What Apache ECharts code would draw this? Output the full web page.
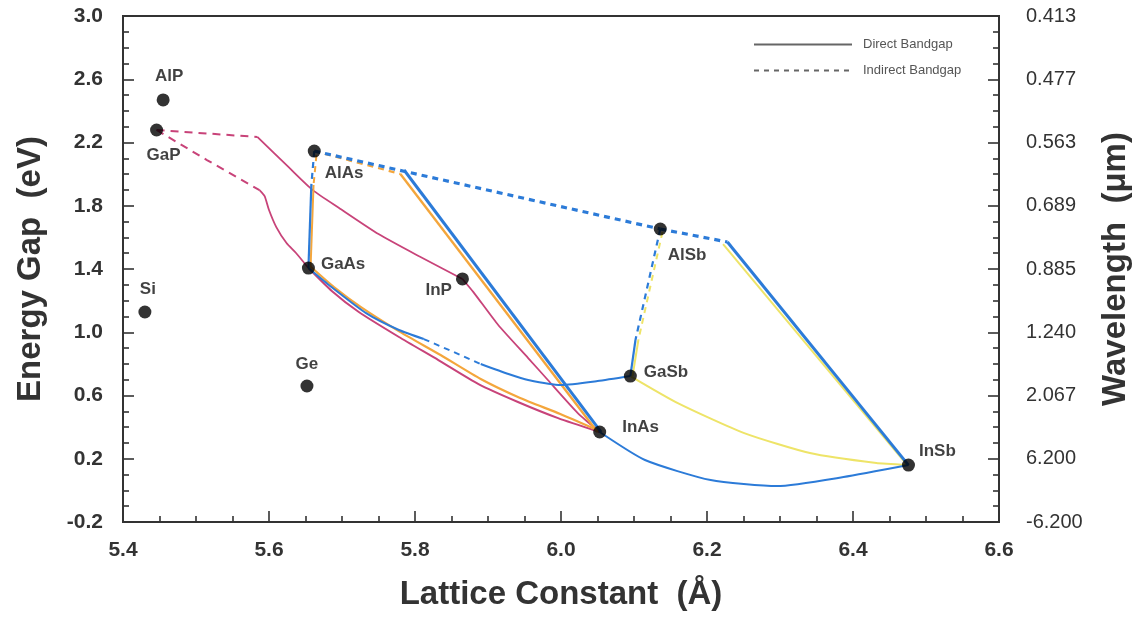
<!DOCTYPE html>
<html>
<head>
<meta charset="utf-8">
<script src="https://cdn.jsdelivr.net/npm/echarts@6/dist/echarts.min.js"></script>
<style>
html,body{margin:0;padding:0;background:#fff;}
#chart{width:1140px;height:617px;}
</style>
</head>
<body>
<div id="chart"></div>
<script>
// ---- Data (lattice constant in Å, energy gap in eV) ----
const compounds   = ['AlP','GaP','Si','Ge','AlAs','GaAs','InP','AlSb','GaSb','InAs','InSb'];
const latticeConst = [5.455, 5.446, 5.430, 5.652, 5.662, 5.654, 5.865, 6.136, 6.095, 6.053, 6.476];
const energyGap    = [2.469, 2.279, 1.128, 0.660, 2.146, 1.406, 1.337, 1.653, 0.723, 0.369, 0.160];

const xTicks = ['5.4','5.6','5.8','6.0','6.2','6.4','6.6'];
const energyTicks = ['-0.2','0.2','0.6','1.0','1.4','1.8','2.2','2.6','3.0'];
const wavelengthTicks = ['-6.200','6.200','2.067','1.240','0.885','0.689','0.563','0.477','0.413'];

// GaInP (pink)
const gaInP_indirect = [[5.446,2.279],[5.584,2.235]];
const gaInP_direct   = [[5.584,2.235],[5.628,2.039],[5.660,1.899],[5.696,1.786],[5.750,1.621],[5.805,1.482],[5.865,1.337]];
// GaAsP (pink)
const gaAsP_indirect = [[5.446,2.279],[5.515,2.089],[5.587,1.899]];
const gaAsP_direct   = [[5.587,1.899],[5.594,1.861],[5.600,1.773],[5.610,1.665],[5.624,1.564],[5.637,1.501],[5.654,1.406]];
// InAsP (pink)
const inAsP_direct   = [[5.865,1.337],[5.880,1.254],[5.914,1.046],[5.955,0.837],[5.982,0.698],[6.023,0.489],[6.053,0.369]];
// GaInAs (pink and orange)
const gaInAs_pink    = [[5.654,1.406],[5.686,1.261],[5.723,1.128],[5.778,0.970],[5.832,0.824],[5.887,0.672],[5.941,0.559],[5.996,0.457],[6.053,0.369]];
const gaInAs_orange  = [[5.656,1.419],[5.689,1.286],[5.726,1.159],[5.780,1.001],[5.835,0.856],[5.890,0.704],[5.944,0.584],[5.999,0.483],[6.050,0.381]];
// AlInAs (orange and blue)
const alInAs_orange_indirect = [[5.662,2.146],[5.780,2.001]];
const alInAs_orange_direct   = [[5.780,2.001],[6.050,0.369]];
const alInAs_blue_direct     = [[5.785,2.026],[6.055,0.369]];
// AlGaAs (blue and orange)
const alGaAs_blue_indirect   = [[5.662,2.146],[5.658,1.931]];
const alGaAs_blue_direct     = [[5.658,1.931],[5.654,1.406]];
const alGaAs_orange_indirect = [[5.665,2.120],[5.661,1.931]];
const alGaAs_orange_direct   = [[5.661,1.931],[5.657,1.419]];
// AlAsSb and AlInSb indirect (blue)
const alAsSb_indirect  = [[5.662,2.146],[6.136,1.653]];
const alInSb_indirect  = [[6.136,1.653],[6.228,1.571]];
const alInSb_blue      = [[6.228,1.571],[6.476,0.160]];
const alInSb_yellow    = [[6.222,1.558],[6.472,0.173]];
// GaAsSb (blue)
const gaAsSb_direct1   = [[5.654,1.406],[5.682,1.299],[5.733,1.121],[5.778,1.014],[5.812,0.957]];
const gaAsSb_indirect  = [[5.812,0.957],[5.853,0.875],[5.890,0.799]];
const gaAsSb_direct2   = [[5.890,0.799],[5.928,0.736],[5.955,0.698],[6.000,0.666],[6.050,0.691],[6.095,0.723]];
// AlGaSb (blue and yellow)
const alGaSb_blue_indirect   = [[6.136,1.653],[6.102,0.951]];
const alGaSb_blue_direct     = [[6.102,0.951],[6.095,0.723]];
const alGaSb_yellow_indirect = [[6.139,1.634],[6.106,0.951]];
const alGaSb_yellow_direct   = [[6.106,0.951],[6.098,0.723]];
// GaInSb (yellow), InAsSb (blue)
const gaInSb_direct = [[6.095,0.723],[6.160,0.552],[6.251,0.362],[6.341,0.236],[6.432,0.173],[6.476,0.160]];
const inAsSb_direct = [[6.053,0.369],[6.115,0.192],[6.205,0.065],[6.296,0.027],[6.387,0.084],[6.476,0.160]];

// ---- Styles ----
const BLUE='#2c7bd8', PINK='#c84379', ORANGE='#f4a63c', YELLOW='#eee468';
const FONT='"Liberation Sans", Arial, Helvetica, sans-serif';

function line(data, color, width, dashed, z, smooth){
  return {
    type:'line', data:data, showSymbol:false, symbol:'none', silent:true,
    smooth: smooth ? 0.2 : false, z:z,
    lineStyle:{color:color, width:width, type: dashed ? [6,5] : 'solid'}
  };
}

const labelPlacement = {
  'AlP': {position:'top', offset:[6,-3]},
  'GaP': {position:'bottom', offset:[7,4]},
  'Si':  {position:'top', offset:[3,-2]},
  'Ge':  {position:'top', offset:[0,-1]},
  'AlAs':{position:'right', offset:[-2,22]},
  'GaAs':{position:'right', offset:[0,-4]},
  'InP': {position:'left', offset:[2,11]},
  'AlSb':{position:'right', offset:[-5,26]},
  'GaSb':{position:'right', offset:[1,-4]},
  'InAs':{position:'right', offset:[10,-5]},
  'InSb':{position:'right', offset:[-2,-14]}
};

const pointData = compounds.map((name,i)=>({
  name:name,
  value:[latticeConst[i], energyGap[i]],
  label:Object.assign({show:true, formatter:name, distance:6}, labelPlacement[name])
}));

const series = [
  // pink
  Object.assign(line(gaInP_indirect, PINK, 2, true, 2), {lineStyle:{color:PINK,width:2,type:[8,6]}}),
  line(gaInP_direct, PINK, 1.8, false, 2, true),
  Object.assign(line(gaAsP_indirect, PINK, 2, true, 2), {lineStyle:{color:PINK,width:2,type:[8,6]}}),
  line(gaAsP_direct, PINK, 1.8, false, 2, true),
  line(inAsP_direct, PINK, 1.8, false, 2, true),
  line(gaInAs_pink, PINK, 2, false, 2, true),
  // yellow
  line(alInSb_yellow, YELLOW, 2, false, 3),
  line(alGaSb_yellow_indirect, YELLOW, 2, true, 3),
  line(alGaSb_yellow_direct, YELLOW, 2, false, 3),
  line(gaInSb_direct, YELLOW, 2, false, 3, true),
  // orange
  line(gaInAs_orange, ORANGE, 2.2, false, 4, true),
  line(alInAs_orange_indirect, ORANGE, 2.2, true, 4),
  line(alInAs_orange_direct, ORANGE, 2.4, false, 4),
  line(alGaAs_orange_indirect, ORANGE, 2, true, 4),
  line(alGaAs_orange_direct, ORANGE, 2, false, 4),
  // blue
  line(alAsSb_indirect, BLUE, 3.2, true, 5),
  line(alInSb_indirect, BLUE, 3.2, true, 5),
  line(alInSb_blue, BLUE, 3, false, 5),
  line(alInAs_blue_direct, BLUE, 3, false, 5),
  line(alGaAs_blue_indirect, BLUE, 2.2, true, 5),
  line(alGaAs_blue_direct, BLUE, 2.2, false, 5),
  line(gaAsSb_direct1, BLUE, 2, false, 5, true),
  line(gaAsSb_indirect, BLUE, 2, true, 5),
  line(gaAsSb_direct2, BLUE, 2, false, 5, true),
  line(alGaSb_blue_indirect, BLUE, 2.2, true, 5),
  line(alGaSb_blue_direct, BLUE, 2.2, false, 5),
  line(inAsSb_direct, BLUE, 2, false, 5, true),
  // legend dummies
  {name:'Direct Bandgap', type:'line', data:[], symbol:'none', showSymbol:false, lineStyle:{color:'#666', width:2}, itemStyle:{color:'#666'}},
  {name:'Indirect Bandgap', type:'line', data:[], symbol:'none', showSymbol:false, lineStyle:{color:'#666', width:2, type:[5,5]}, itemStyle:{color:'#666'}},
  // compounds
  {
    type:'scatter', data:pointData, symbolSize:13, z:10, silent:true,
    itemStyle:{color:'#000'},
    label:{color:'#111', fontSize:17, fontWeight:'bold', fontFamily:FONT}
  }
];

const axisLineStyle = {color:'#333', width:2};
const tickStyle = {color:'#333', width:1.6};

const option = {
  animation:false,
  backgroundColor:'#fff',
  textStyle:{fontFamily:FONT},
  grid:{left:123, right:137, top:16, bottom:95, show:true, borderColor:'#333', borderWidth:2, backgroundColor:'transparent'},
  legend:{
    data:['Direct Bandgap','Indirect Bandgap'],
    orient:'vertical', left:748, top:33, itemWidth:98, itemHeight:14, itemGap:13,
    selectedMode:false,
    itemStyle:{opacity:0},
    textStyle:{fontSize:13, color:'#555', fontFamily:FONT, padding:[0,0,0,6]}
  },
  xAxis:{
    type:'value', min:5.4, max:6.6, interval:0.2,
    name:'Lattice Constant  (Å)', nameLocation:'middle', nameGap:56,
    nameTextStyle:{fontSize:33, fontWeight:'bold', color:'#333', fontFamily:FONT},
    axisLine:{show:true, onZero:false, lineStyle:axisLineStyle},
    axisTick:{show:true, inside:true, length:11, lineStyle:tickStyle},
    minorTick:{show:true, splitNumber:4, length:6, lineStyle:tickStyle},
    splitLine:{show:false},
    axisLabel:{fontSize:21, fontWeight:'bold', color:'#333', margin:18,
      formatter:v=>xTicks[Math.round((v-5.4)/0.2)]}
  },
  yAxis:[{
    type:'value', min:-0.2, max:3.0, interval:0.4, position:'left',
    name:'Energy Gap  (eV)', nameLocation:'middle', nameGap:76,
    nameTextStyle:{fontSize:33, fontWeight:'bold', color:'#333', fontFamily:FONT},
    axisLine:{show:true, onZero:false, lineStyle:axisLineStyle},
    axisTick:{show:true, inside:true, length:11, lineStyle:tickStyle},
    minorTick:{show:true, splitNumber:4, length:6, lineStyle:tickStyle},
    splitLine:{show:false},
    axisLabel:{fontSize:21, fontWeight:'bold', color:'#333', margin:20,
      formatter:v=>energyTicks[Math.round((v+0.2)/0.4)]}
  },{
    type:'value', min:-0.2, max:3.0, interval:0.4, position:'right',
    name:'Wavelength  (μm)', nameLocation:'middle', nameGap:100,
    nameTextStyle:{fontSize:33, fontWeight:'bold', color:'#333', fontFamily:FONT},
    axisLine:{show:true, onZero:false, lineStyle:axisLineStyle},
    axisTick:{show:true, inside:true, length:11, lineStyle:tickStyle},
    minorTick:{show:true, splitNumber:4, length:6, lineStyle:tickStyle},
    splitLine:{show:false},
    axisLabel:{fontSize:20, color:'#333', margin:27,
      formatter:v=>wavelengthTicks[Math.round((v+0.2)/0.4)]}
  }],
  series:series
};

const chart = echarts.init(document.getElementById('chart'), null, {renderer:'canvas'});
chart.setOption(option);
</script>
</body>
</html>
